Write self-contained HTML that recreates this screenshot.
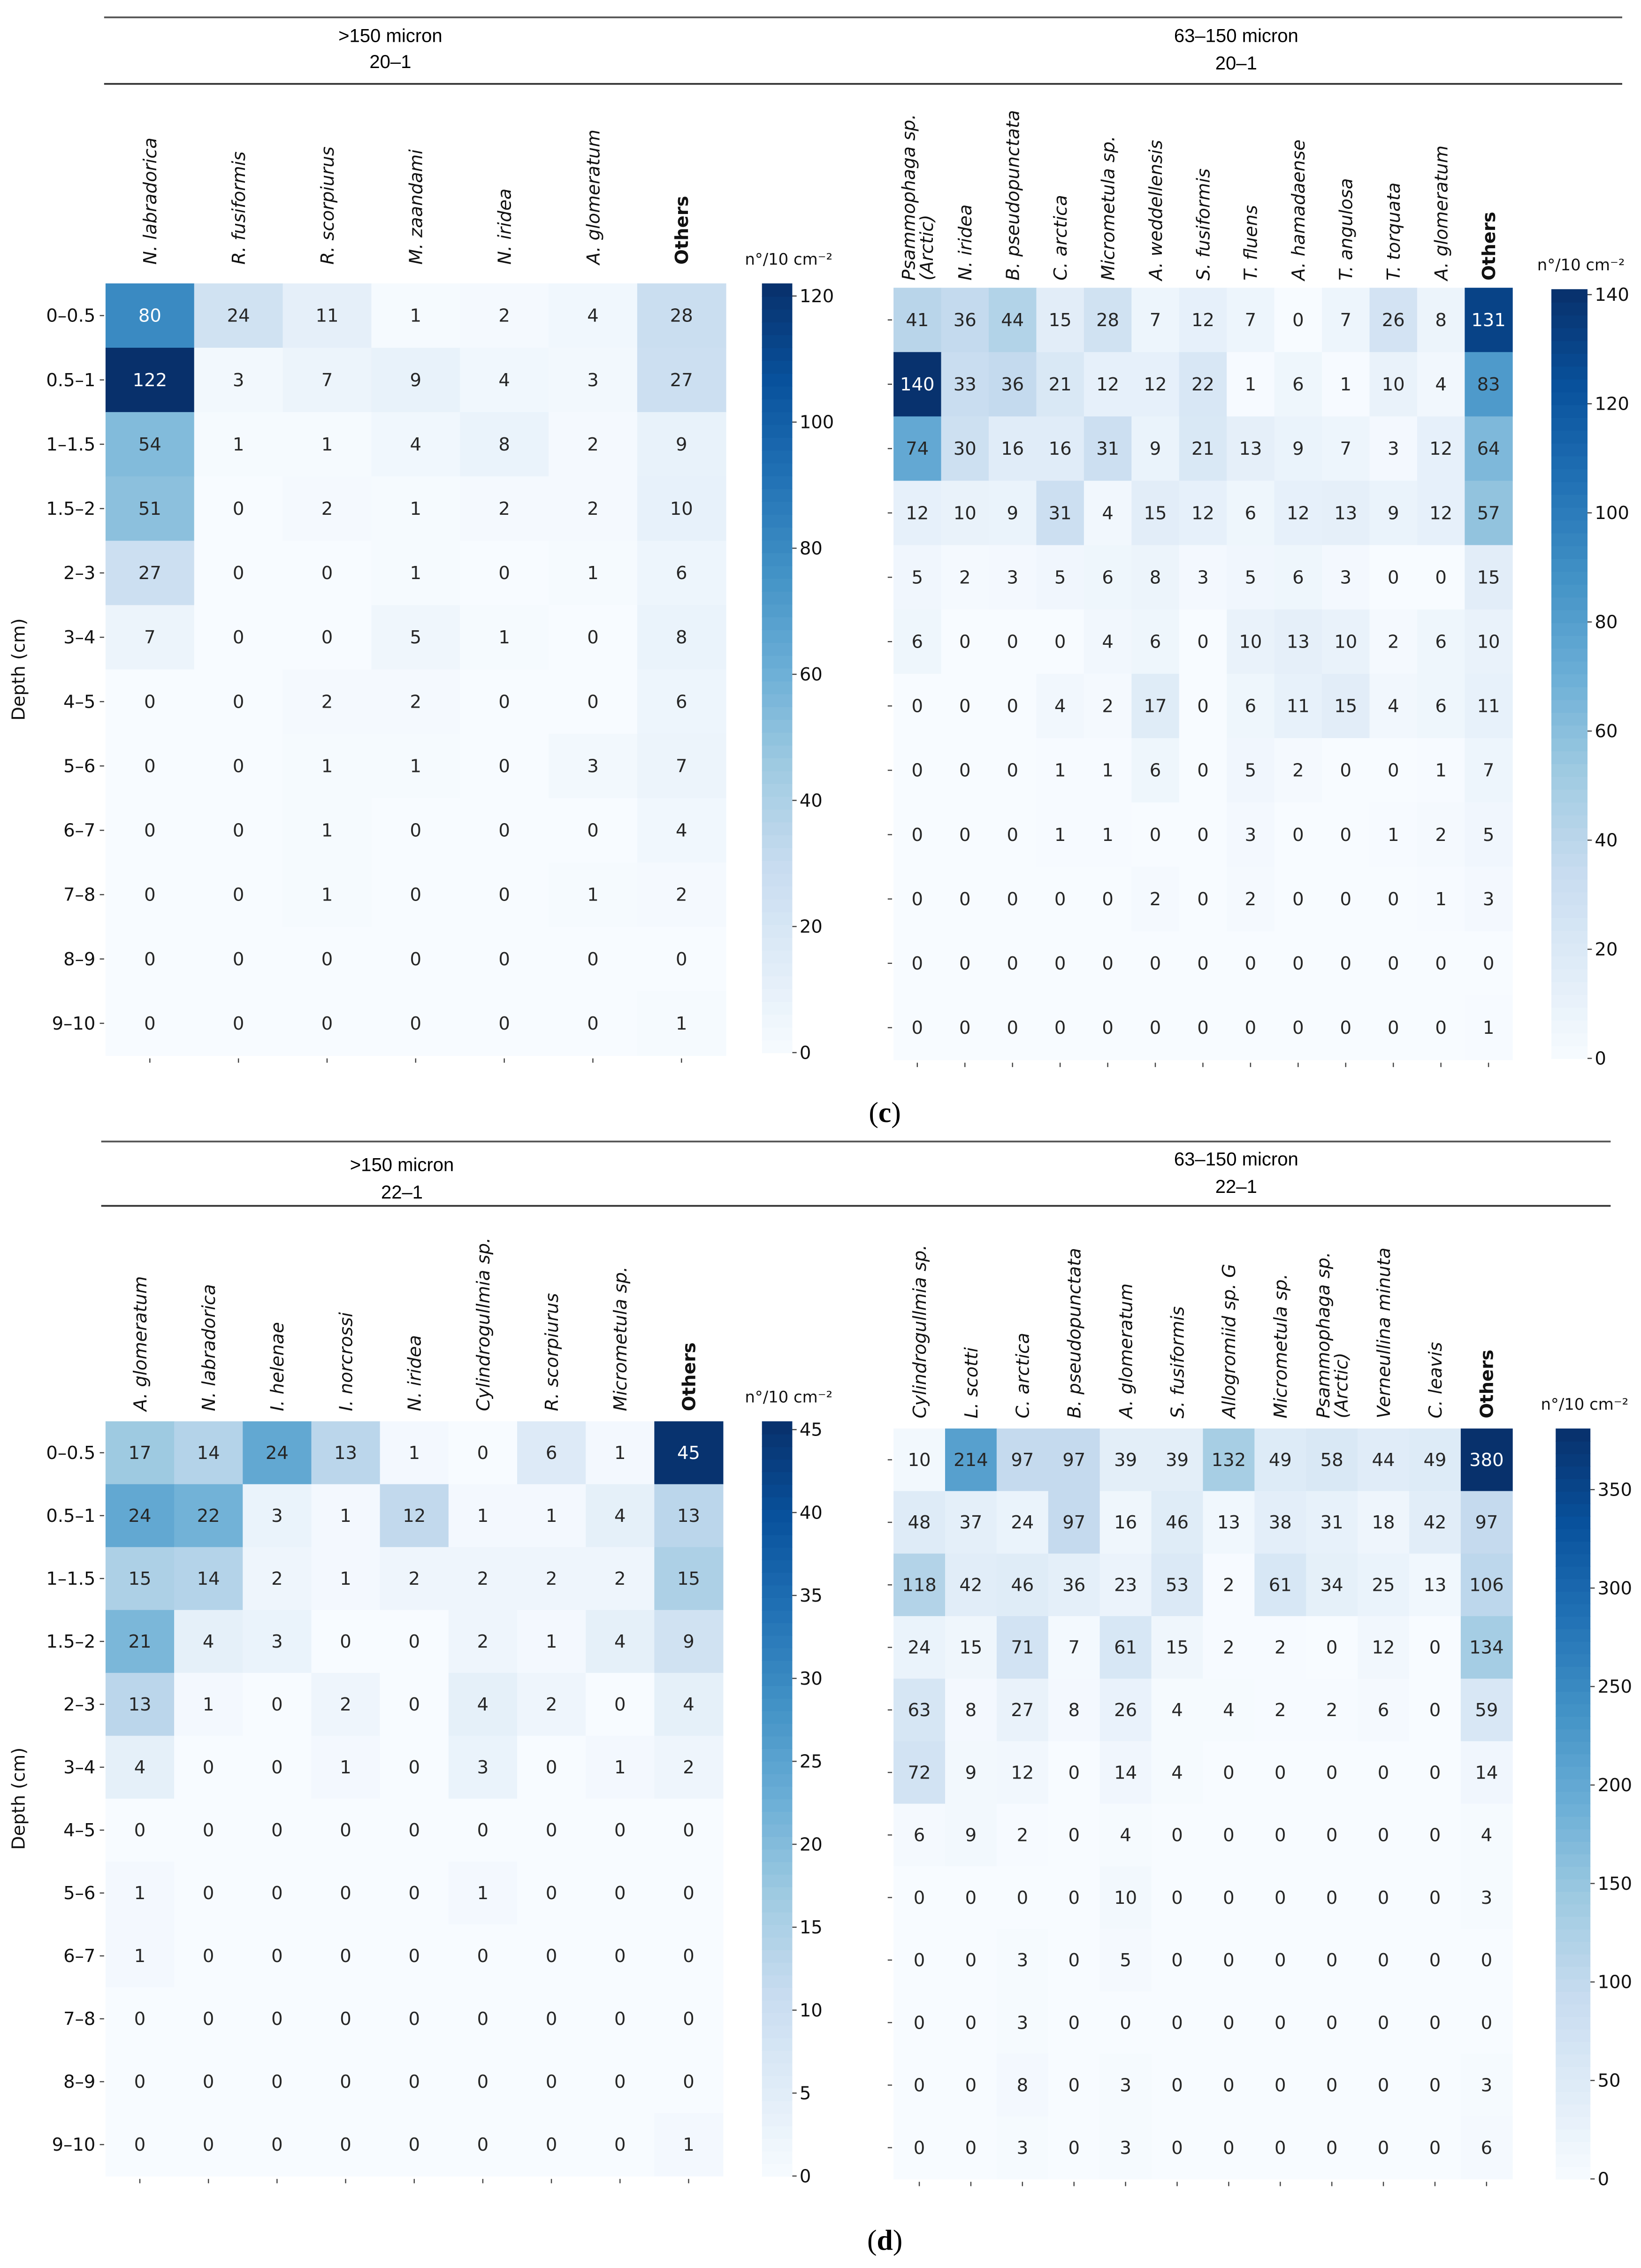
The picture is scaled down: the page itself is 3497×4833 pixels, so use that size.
<!DOCTYPE html>
<html><head><meta charset="utf-8">
<style>
html,body{margin:0;padding:0;background:#fff;}
svg{display:block;}
text{font-family:"DejaVu Sans","Liberation Sans",sans-serif;}
.hd{font-family:"Liberation Sans",sans-serif;font-size:13px;fill:#000;}
</style></head>
<body>
<svg id="fig" width="3497" height="4833" viewBox="0 0 1135 1568.6" xmlns="http://www.w3.org/2000/svg">
<rect width="1135" height="1569" fill="#fff"/>
<g>
<line x1="72" y1="12" x2="1122" y2="12" stroke="#555" stroke-width="1.2"/>
<line x1="72" y1="58" x2="1122" y2="58" stroke="#333" stroke-width="1.2"/>
<text class="hd" x="270" y="29" text-anchor="middle">&gt;150 micron</text>
<text class="hd" x="270" y="47" text-anchor="middle">20–1</text>
<text class="hd" x="855" y="29" text-anchor="middle">63–150 micron</text>
<text class="hd" x="855" y="48" text-anchor="middle">20–1</text>
</g>
<g>
<line x1="70" y1="789.5" x2="1114" y2="789.5" stroke="#555" stroke-width="1.2"/>
<line x1="70" y1="834" x2="1114" y2="834" stroke="#333" stroke-width="1.2"/>
<text class="hd" x="278" y="810" text-anchor="middle">&gt;150 micron</text>
<text class="hd" x="278" y="829" text-anchor="middle">22–1</text>
<text class="hd" x="855" y="806" text-anchor="middle">63–150 micron</text>
<text class="hd" x="855" y="825" text-anchor="middle">22–1</text>
</g>
<text x="612" y="776" text-anchor="middle" font-family="Liberation Serif,serif" font-size="20" style="font-family:'Liberation Serif',serif">(<tspan font-weight="bold">c</tspan>)</text>
<text x="612" y="1556" text-anchor="middle" font-size="20" style="font-family:'Liberation Serif',serif">(<tspan font-weight="bold">d</tspan>)</text>
<g id="charts"></g>
</svg>
<script>
const depthLabels = ["0–0.5","0.5–1","1–1.5","1.5–2","2–3","3–4","4–5","5–6","6–7","7–8","8–9","9–10"];

const cLeftCols = ["N. labradorica","R. fusiformis","R. scorpiurus","M. zaandami","N. iridea","A. glomeratum","Others"];
const cLeftVals = [
[80,24,11,1,2,4,28],[122,3,7,9,4,3,27],[54,1,1,4,8,2,9],[51,0,2,1,2,2,10],
[27,0,0,1,0,1,6],[7,0,0,5,1,0,8],[0,0,2,2,0,0,6],[0,0,1,1,0,3,7],
[0,0,1,0,0,0,4],[0,0,1,0,0,1,2],[0,0,0,0,0,0,0],[0,0,0,0,0,0,1]];
const cLeftTicks = [0,20,40,60,80,100,120];

const cRightCols = ["Psammophaga sp.|(Arctic)","N. iridea","B. pseudopunctata","C. arctica","Micrometula sp.","A. weddellensis","S. fusiformis","T. fluens","A. hamadaense","T. angulosa","T. torquata","A. glomeratum","Others"];
const cRightVals = [
[41,36,44,15,28,7,12,7,0,7,26,8,131],[140,33,36,21,12,12,22,1,6,1,10,4,83],
[74,30,16,16,31,9,21,13,9,7,3,12,64],[12,10,9,31,4,15,12,6,12,13,9,12,57],
[5,2,3,5,6,8,3,5,6,3,0,0,15],[6,0,0,0,4,6,0,10,13,10,2,6,10],
[0,0,0,4,2,17,0,6,11,15,4,6,11],[0,0,0,1,1,6,0,5,2,0,0,1,7],
[0,0,0,1,1,0,0,3,0,0,1,2,5],[0,0,0,0,0,2,0,2,0,0,0,1,3],
[0,0,0,0,0,0,0,0,0,0,0,0,0],[0,0,0,0,0,0,0,0,0,0,0,0,1]];
const cRightTicks = [0,20,40,60,80,100,120,140];

const dLeftCols = ["A. glomeratum","N. labradorica","I. helenae","I. norcrossi","N. iridea","Cylindrogullmia sp.","R. scorpiurus","Micrometula sp.","Others"];
const dLeftVals = [
[17,14,24,13,1,0,6,1,45],[24,22,3,1,12,1,1,4,13],[15,14,2,1,2,2,2,2,15],
[21,4,3,0,0,2,1,4,9],[13,1,0,2,0,4,2,0,4],[4,0,0,1,0,3,0,1,2],
[0,0,0,0,0,0,0,0,0],[1,0,0,0,0,1,0,0,0],[1,0,0,0,0,0,0,0,0],
[0,0,0,0,0,0,0,0,0],[0,0,0,0,0,0,0,0,0],[0,0,0,0,0,0,0,0,1]];
const dLeftTicks = [0,5,10,15,20,25,30,35,40,45];

const dRightCols = ["Cylindrogullmia sp.","L. scotti","C. arctica","B. pseudopunctata","A. glomeratum","S. fusiformis","Allogromiid sp. G","Micrometula sp.","Psammophaga sp.|(Arctic)","Verneullina minuta","C. leavis","Others"];
const dRightVals = [
[10,214,97,97,39,39,132,49,58,44,49,380],[48,37,24,97,16,46,13,38,31,18,42,97],
[118,42,46,36,23,53,2,61,34,25,13,106],[24,15,71,7,61,15,2,2,0,12,0,134],
[63,8,27,8,26,4,4,2,2,6,0,59],[72,9,12,0,14,4,0,0,0,0,0,14],
[6,9,2,0,4,0,0,0,0,0,0,4],[0,0,0,0,10,0,0,0,0,0,0,3],
[0,0,3,0,5,0,0,0,0,0,0,0],[0,0,3,0,0,0,0,0,0,0,0,0],
[0,0,8,0,3,0,0,0,0,0,0,3],[0,0,3,0,3,0,0,0,0,0,0,6]];
const dRightTicks = [0,50,100,150,200,250,300,350];

const NS = "http://www.w3.org/2000/svg";
const stops = ["#f7fbff","#deebf7","#c6dbef","#9ecae1","#6baed6","#4292c6","#2171b5","#08519c","#08306b"];
function hex(c){return [1,3,5].map(i=>parseInt(c.substr(i,2),16));}
function blues(t){
  t=Math.max(0,Math.min(1,t));
  const p=t*8, i=Math.min(7,Math.floor(p)), f=p-i;
  const a=hex(stops[i]), b=hex(stops[i+1]);
  return "rgb("+a.map((v,k)=>Math.round(v+(b[k]-v)*f)).join(",")+")";
}
function mk(tag, attrs, parent){
  const e=document.createElementNS(NS,tag);
  for(const k in attrs) e.setAttribute(k,attrs[k]);
  parent.appendChild(e); return e;
}
const root=document.getElementById("charts");

function heatmap(name, cols, vals, ticks, vmax, box, cb, labelBottom, rowLabels){
  const g=mk("g",{},root);
  
  
  const nr=vals.length, nc=cols.length;
  const cw=(box.x1-box.x0)/nc, rh=(box.y1-box.y0)/nr;
  const xs=j=>box.x0+j*cw, ys=i=>box.y0+i*rh;
  for(let i=0;i<nr;i++){
    for(let j=0;j<nc;j++){
      const v=vals[i][j], t=v/vmax;
      const r=mk("rect",{x:xs(j),y:ys(i),width:cw+0.3,height:rh+0.3,fill:blues(t)},g);
      
      
      const tx=mk("text",{x:xs(j)+cw/2,y:ys(i)+rh/2+4.3,"text-anchor":"middle","font-size":"12.5",fill:t>0.6?"#fff":"#262626"},g);
      
      
      tx.textContent=v;
    }
    // y ticks
    mk("line",{x1:box.x0-4,x2:box.x0-1,y1:ys(i)+rh/2,y2:ys(i)+rh/2,stroke:"#444","stroke-width":0.8},g);
    if(rowLabels){
      const rl=mk("text",{x:box.x0-7,y:ys(i)+rh/2+4.3,"text-anchor":"end","font-size":"12.5",fill:"#111"},g);
      
      
      rl.textContent=rowLabels[i];
    }
  }
  for(let j=0;j<nc;j++){
    const cx=xs(j)+cw/2;
    mk("line",{x1:cx,x2:cx,y1:box.y1+2,y2:box.y1+5,stroke:"#444","stroke-width":0.8},g);
    const parts=cols[j].split("|");
    parts.forEach((p,k)=>{
      const off=(k-(parts.length-1)/2)*12.5;
      const lx=cx+4.5+off;
      const isO=p==="Others";
      const t=mk("text",{x:lx,y:labelBottom,"text-anchor":"start","font-size":"12.5",
        "font-style":isO?"normal":"italic","font-weight":isO?"bold":"normal",fill:"#111",
        transform:"rotate(-90 "+lx+" "+labelBottom+")"},g);
      
      
      t.textContent=p;
    });
  }
  // colorbar
  const steps=60, h=(cb.y1-cb.y0)/steps;
  for(let s=0;s<steps;s++){
    mk("rect",{x:cb.x0,y:cb.y1-(s+1)*h,width:cb.x1-cb.x0,height:h+0.4,fill:blues((s+0.5)/steps)},g);
  }
  const cs=v=>cb.y1-(v/vmax)*(cb.y1-cb.y0);
  ticks.forEach(v=>{
    const y=cs(v);
    mk("line",{x1:cb.x1,x2:cb.x1+3,y1:y,y2:y,stroke:"#444","stroke-width":0.8},g);
    const t=mk("text",{x:cb.x1+5,y:y+4.3,"font-size":"12.5",fill:"#111"},g);
    
    
    t.textContent=v;
  });
  const lt=mk("text",{x:(cb.x0+cb.x1)/2+8,y:cb.y0-13,"text-anchor":"middle","font-size":"11",fill:"#111"},g);
  
  
  lt.textContent="n°/10 cm⁻²";
  if(rowLabels){
    const my=(box.y0+box.y1)/2;
    const dl=mk("text",{x:17,y:my,"text-anchor":"middle","font-size":"12.5",fill:"#111",transform:"rotate(-90 17 "+my+")"},g);
    
    
    dl.textContent="Depth (cm)";
  }
}
heatmap("heatmap-c-left",cLeftCols,cLeftVals,cLeftTicks,122,{x0:73,x1:502,y0:196,y1:730},{x0:527,x1:548,y0:196,y1:728},183,depthLabels);
heatmap("heatmap-c-right",cRightCols,cRightVals,cRightTicks,141,{x0:618,x1:1046,y0:199,y1:733},{x0:1073,x1:1098,y0:200,y1:732},194,null);
heatmap("heatmap-d-left",dLeftCols,dLeftVals,dLeftTicks,45.5,{x0:73,x1:500,y0:983,y1:1505},{x0:527,x1:548,y0:983,y1:1505},976,depthLabels);
heatmap("heatmap-d-right",dRightCols,dRightVals,dRightTicks,381,{x0:618,x1:1046,y0:988,y1:1507},{x0:1076,x1:1100,y0:988,y1:1507},981,null);
</script>
</body></html>
